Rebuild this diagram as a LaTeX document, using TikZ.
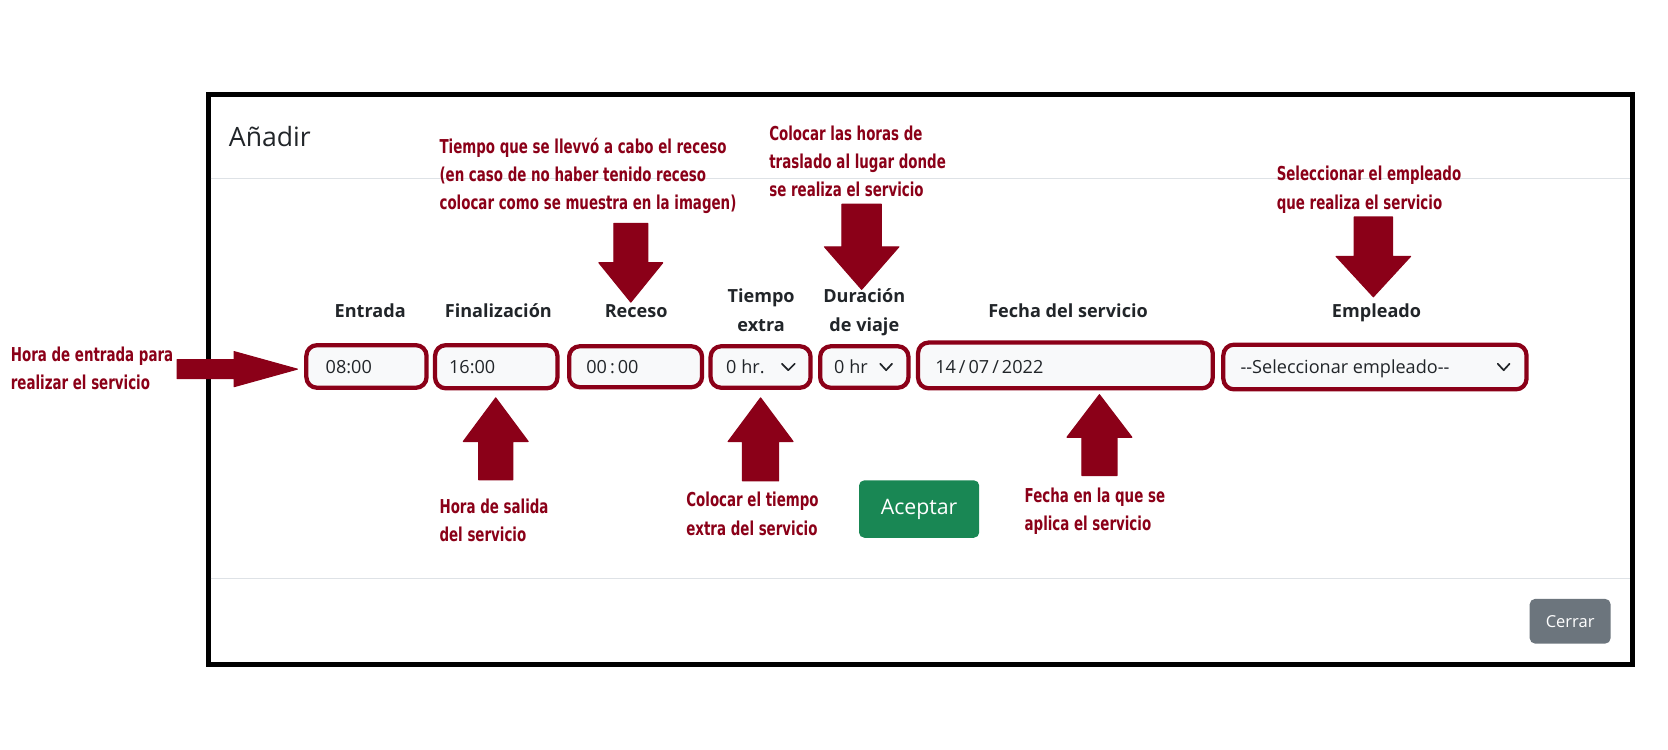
\documentclass[tikz,border=0pt]{standalone}
\usepackage{fontspec}
\setmainfont{Open Sans}
\newfontfamily\annfont{DejaVu Sans}[FakeStretch=0.7]
\definecolor{annred}{RGB}{139,0,24}
\definecolor{labelgray}{HTML}{212529}
\definecolor{sepgray}{HTML}{DEE2E6}
\definecolor{inputbg}{HTML}{F8F9FA}
\definecolor{btngreen}{HTML}{198754}
\definecolor{btngray}{HTML}{6C757D}
\newcommand\annlines[1]{\begin{tabular}[t]{@{}l@{}}#1\end{tabular}}
\newcommand\lbllines[1]{\begin{tabular}[t]{@{}c@{}}#1\end{tabular}}
% vertical block arrow: cx, shaft end y, head base y, tip y, shaft half width, head half width
\newcommand\vblockarrow[6]{%
  \path[blockarrow] (#1-#5,#2) -- (#1+#5,#2) -- (#1+#5,#3) -- (#1+#6,#3) -- (#1,#4)
    -- (#1-#6,#3) -- (#1-#5,#3) -- cycle;}
% horizontal block arrow: cy, shaft end x, head base x, tip x, shaft half width, head half width
\newcommand\hblockarrow[6]{%
  \path[blockarrow] (#2,#1-#5) -- (#2,#1+#5) -- (#3,#1+#5) -- (#3,#1+#6) -- (#4,#1)
    -- (#3,#1-#6) -- (#3,#1-#5) -- cycle;}
\begin{document}
\begin{tikzpicture}[x=1pt,y=-1pt,
  ann/.style={font=\annfont\bfseries\fontsize{18}{26.5}\selectfont, text=annred, anchor=base west, inner sep=0pt},
  lbl/.style={font=\bfseries\fontsize{17}{27}\selectfont, text=labelgray, anchor=base, inner sep=0pt},
  field/.style={fill=inputbg, draw=annred, line width=4pt, rounded corners=10pt, inner sep=0pt},
  intext/.style={font=\fontsize{17}{20}\selectfont, text=labelgray, anchor=base west, inner sep=0pt},
  chev/.style={draw=labelgray, line width=1.6pt, line cap=round, line join=round},
  blockarrow/.style={fill=annred, draw=annred, line width=1pt, line join=round},
  sep/.style={draw=sepgray, line width=1pt},
  btn/.style={rounded corners=5pt, text=white, inner sep=0pt},
]
\useasboundingbox (0,0) rectangle (1568,705);
\fill[white] (0,0) rectangle (1568,705);

% dialog frame
\draw[line width=4.5pt] (195.7,89) rectangle (1534.5,624.5);
\draw[sep] (198,168) -- (1532,168);
\draw[sep] (198,543.5) -- (1532,543.5);
\node[font=\fontsize{25}{30}\selectfont, text=labelgray, anchor=base west, inner sep=0pt] (title) at (215,138) {Añadir};

% field labels
\node[lbl] (lEntrada) at (348,298) {Entrada};
\node[lbl] (lFin) at (468.5,298) {Finalización};
\node[lbl] (lReceso) at (598,298) {Receso};
\node[lbl] (lExtra) at (715.5,284.5) {\lbllines{Tiempo\\extra}};
\node[lbl] (lViaje) at (812.5,284.5) {\lbllines{Duración\\de viaje}};
\node[lbl] (lFecha) at (1004,298) {Fecha del servicio};
\node[lbl] (lEmp) at (1294,298) {Empleado};

% fields with red outlines
\node[field, minimum width=113pt, minimum height=40pt] (fEntrada) at (344.5,344.5) {};
\node[field, minimum width=115pt, minimum height=40.5pt] (fFin) at (466.5,344.75) {};
\node[field, minimum width=125pt, minimum height=38.5pt] (fReceso) at (597.5,344.75) {};
\node[field, minimum width=94pt, minimum height=39pt] (fExtra) at (715,345) {};
\node[field, minimum width=83pt, minimum height=39pt] (fViaje) at (812.5,345) {};
\node[field, minimum width=277pt, minimum height=43pt] (fFecha) at (1001.5,343.5) {};
\node[field, minimum width=285pt, minimum height=42pt] (fEmp) at (1292.5,345) {};

% field contents
\node[intext] (tEntrada) at (306,351) {08:00};
\node[intext] (tFin) at (422,351) {16:00};
\node[intext] (tReceso) at (551,351) {00\,:\,00};
\node[intext] (tExtra) at (682.5,351) {0 hr.};
\node[intext] (tViaje) at (784,351) {0 hr};
\node[intext] (tFecha) at (879,351) {14\,/\,07\,/\,2022};
\node[intext] (tEmp) at (1166,351) {-{}-Seleccionar empleado-{}-};
\draw[chev] (735,342) -- (741,348) -- (747,342);
\draw[chev] (827.5,342) -- (833,348) -- (838.5,342);
\draw[chev] (1408,342) -- (1413.5,348) -- (1419,342);

% buttons
\node[btn, fill=btngreen, minimum width=113pt, minimum height=54pt, font=\fontsize{20}{24}\selectfont] (aceptar) at (864,478.5) {Aceptar};
\node[btn, fill=btngray, minimum width=76pt, minimum height=42pt, font=\fontsize{15.5}{18}\selectfont] (cerrar) at (1476,584) {Cerrar};

% block arrows
\hblockarrow{347}{166.5}{220}{279.5}{9}{16.5}
\vblockarrow{593}{210}{247}{284}{16}{30}
\vblockarrow{810}{192}{232}{272}{18.5}{35}
\vblockarrow{1291}{204}{241}{279}{18}{35}
\vblockarrow{466}{451}{415}{374}{16}{30.5}
\vblockarrow{715}{452}{415}{374}{17}{30.5}
\vblockarrow{1033.5}{447}{411}{371}{16.5}{30.5}

% annotations
\node[ann] (aEntrada) at (10,339.5) {\annlines{Hora de entrada para\\realizar el servicio}};
\node[ann] (aReceso) at (413,144) {\annlines{Tiempo que se llevvó a cabo el receso\\(en caso de no haber tenido receso\\colocar como se muestra en la imagen)}};
\node[ann] (aViaje) at (723,132) {\annlines{Colocar las horas de\\traslado al lugar donde\\se realiza el servicio}};
\node[ann] (aEmp) at (1200,170) {\annlines{Seleccionar el empleado\\que realiza el servicio}};
\node[ann] (aFin) at (413,482.5) {\annlines{Hora de salida\\del servicio}};
\node[ann] (aExtra) at (645,476.5) {\annlines{Colocar el tiempo\\extra del servicio}};
\node[ann] (aFecha) at (963,472.5) {\annlines{Fecha en la que se\\aplica el servicio}};
\end{tikzpicture}
\end{document}
